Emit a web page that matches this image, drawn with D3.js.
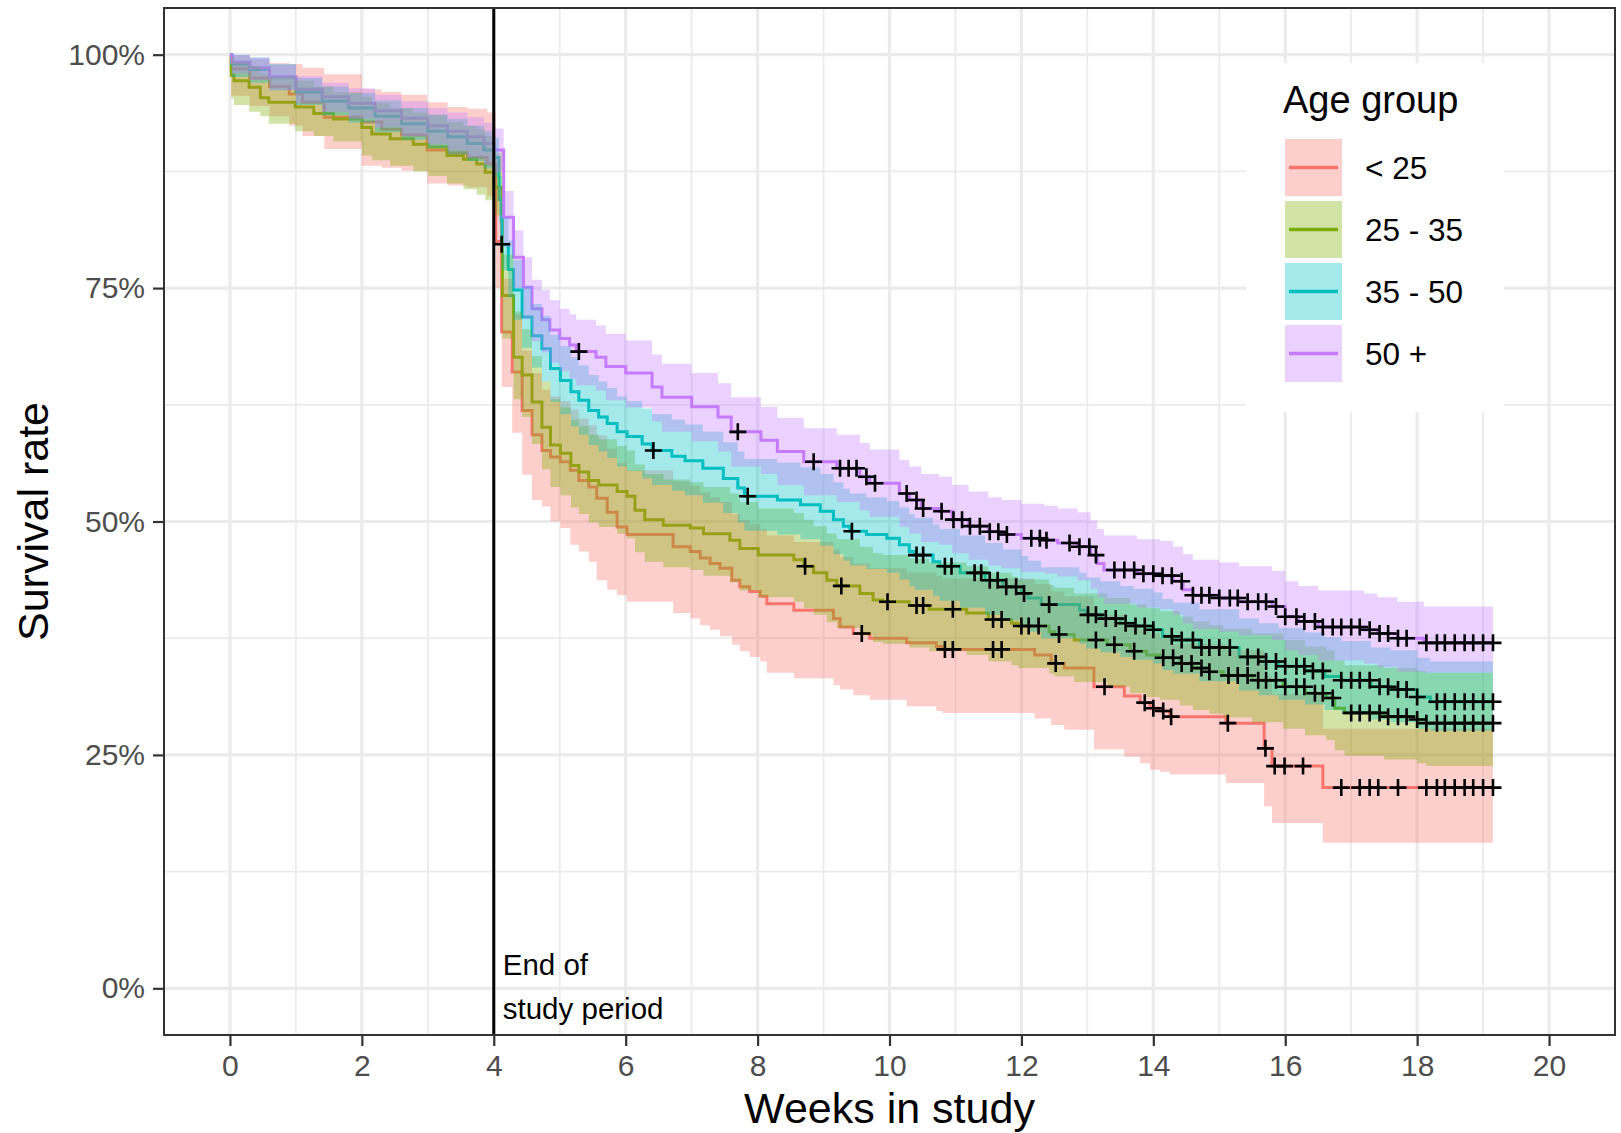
<!DOCTYPE html>
<html>
<head>
<meta charset="utf-8">
<script src="https://cdn.jsdelivr.net/npm/d3@7"></script>
<style>
  body { margin: 0; background: #fff; }
  svg { display: block; font-family: "Liberation Sans", Arial, Helvetica, sans-serif; }
</style>
</head>
<body>
<svg id="chart" width="1621" height="1133"></svg>
<script>
// ---- data (survival in %, time in weeks) ----
const groupNames = ["< 25", "25 - 35", "35 - 50", "50 +"];
const groupColors = ["#F8766D", "#7CAE00", "#00BFC4", "#C77CFF"];
const xTicks = [0, 2, 4, 6, 8, 10, 12, 14, 16, 18, 20];
const yTicks = [0, 0.25, 0.5, 0.75, 1];
const studyEnd = 4;
const followUpEnd = 19.15;

// < 25
const timeLt25 = [0, 0.02, 0.3, 0.6, 0.9, 1.1, 1.43, 2.0, 2.3, 2.6, 2.99, 3.3, 3.6, 3.9, 4.03, 4.12, 4.28, 4.43, 4.58, 4.73, 4.86, 5.01, 5.16, 5.29, 5.44, 5.56, 5.72, 5.87, 6.02, 6.72, 6.98, 7.13, 7.28, 7.43, 7.61, 7.73, 7.88, 8.04, 8.14, 8.55, 9.15, 9.25, 9.45, 9.7, 10.26, 10.71, 10.8, 12.2, 12.45, 12.65, 13.1, 13.56, 13.8, 13.95, 14.1, 14.25, 15.1, 15.68, 15.8, 16.57];
const survLt25 = [100, 98.5, 97.5, 96.6, 95.8, 94.9, 93.3, 92.8, 92.0, 91.4, 89.8, 89.5, 89.0, 88.3, 80.0, 70.3, 66.0, 61.9, 59.3, 57.6, 56.9, 56.4, 55.5, 54.4, 53.7, 52.5, 51.0, 49.4, 48.6, 47.3, 46.8, 46.1, 45.5, 45.0, 43.7, 43.0, 42.5, 42.0, 41.2, 40.5, 39.6, 38.7, 38.0, 37.5, 37.0, 36.6, 36.3, 35.7, 34.8, 34.3, 32.3, 31.3, 30.6, 30.0, 29.7, 29.1, 28.4, 25.7, 23.8, 21.5];
const lowerLt25 = [100, 95.6, 94.5, 93.4, 92.4, 91.3, 89.9, 88.1, 87.9, 87.6, 86.2, 86.0, 85.8, 84.9, 75.0, 64.4, 59.5, 55.0, 52.3, 51.6, 50.0, 49.3, 47.5, 46.8, 45.7, 43.7, 42.7, 42.1, 41.4, 40.2, 39.6, 38.9, 38.4, 37.7, 36.8, 36.1, 35.5, 35.0, 33.8, 33.2, 32.5, 32.0, 31.4, 30.9, 30.2, 29.7, 29.5, 28.9, 28.2, 27.7, 25.6, 24.8, 24.1, 23.4, 23.2, 22.9, 22.0, 19.5, 17.7, 15.6];
const upperLt25 = [100, 99.9, 99.5, 99.1, 99.0, 98.6, 97.9, 96.3, 96.0, 95.7, 94.9, 94.4, 94.2, 93.8, 86.0, 76.0, 72.2, 68.3, 65.9, 64.1, 63.4, 62.9, 62.0, 61.0, 60.3, 59.2, 57.8, 56.3, 55.5, 54.3, 53.8, 53.1, 52.6, 52.1, 50.8, 50.2, 49.7, 49.2, 48.5, 47.8, 47.0, 46.2, 45.5, 45.0, 44.5, 44.2, 43.9, 43.3, 42.5, 42.0, 40.0, 39.0, 38.4, 38.0, 37.5, 36.9, 36.2, 33.5, 31.5, 27.8];
const censorLt25 = [9.58, 10.84, 10.96, 11.57, 11.7, 12.52, 13.26, 13.87, 14.0, 14.15, 14.27, 15.13, 15.7, 15.84, 15.99, 16.27, 16.85, 17.13, 17.28, 17.41, 17.71, 18.14, 18.3, 18.42, 18.57, 18.72, 18.85, 19.0, 19.15];

// 25 - 35
const timeG25 = [0, 0.02, 0.06, 0.29, 0.46, 0.59, 0.99, 1.27, 1.57, 2.0, 2.15, 2.43, 2.78, 3.01, 3.29, 3.54, 3.74, 3.87, 4.0, 4.13, 4.3, 4.43, 4.58, 4.73, 4.86, 5.01, 5.17, 5.29, 5.44, 5.59, 5.87, 6.02, 6.14, 6.29, 6.57, 6.98, 7.18, 7.58, 7.73, 8.01, 8.55, 8.7, 8.85, 9.05, 9.2, 9.55, 9.75, 9.9, 10.3, 10.6, 11.17, 11.5, 11.85, 11.95, 12.42, 12.5, 12.8, 13.3, 13.65, 13.9, 14.1, 14.4, 14.6, 14.85, 15.06, 15.5, 15.97, 16.3, 16.62, 16.75, 16.9, 17.5, 18.0, 18.14];
const survG25 = [100, 97.8, 97.2, 96.5, 95.4, 94.9, 94.4, 93.7, 93.1, 92.2, 91.5, 91.0, 90.4, 90.1, 89.2, 88.8, 88.3, 87.4, 85.8, 74.2, 67.6, 65.7, 62.8, 60.1, 58.2, 57.3, 56.0, 55.3, 54.4, 53.9, 53.2, 52.7, 51.2, 50.2, 49.6, 49.3, 48.7, 48.0, 47.1, 46.4, 45.9, 45.2, 44.5, 43.7, 43.1, 42.3, 41.6, 41.4, 41.0, 40.6, 40.2, 39.5, 39.1, 38.8, 38.2, 37.9, 37.3, 36.8, 36.1, 35.7, 35.4, 34.8, 34.3, 33.9, 33.5, 33.0, 32.3, 31.6, 31.1, 30.0, 29.5, 29.1, 28.8, 28.4];
const lowerG25 = [100, 95.3, 94.6, 93.9, 93.4, 92.6, 91.8, 91.3, 90.7, 89.2, 88.7, 88.1, 87.5, 87.0, 86.2, 85.6, 85.0, 84.4, 82.8, 69.6, 63.1, 61.2, 58.3, 55.6, 53.7, 52.8, 51.5, 50.8, 49.9, 49.4, 48.7, 48.2, 46.7, 45.7, 45.1, 44.8, 44.2, 43.5, 42.6, 41.9, 41.4, 40.7, 40.0, 39.2, 38.6, 37.8, 37.1, 36.9, 36.5, 36.1, 35.7, 35.0, 34.6, 34.3, 33.7, 33.4, 32.8, 32.3, 31.6, 31.2, 30.9, 30.3, 29.8, 29.4, 29.0, 28.5, 27.8, 27.1, 26.6, 25.5, 24.9, 24.5, 24.1, 23.8];
const upperG25 = [100, 99.5, 99.2, 98.8, 98.0, 97.6, 97.2, 96.6, 96.0, 95.5, 94.8, 94.3, 93.8, 93.5, 92.8, 92.4, 92.0, 91.3, 89.5, 78.6, 72.5, 70.6, 67.7, 65.0, 63.1, 62.2, 60.9, 60.2, 59.3, 58.8, 58.1, 57.6, 56.1, 55.1, 54.5, 54.2, 53.7, 53.0, 52.1, 51.4, 50.9, 50.2, 49.5, 48.7, 48.1, 47.3, 46.6, 46.4, 46.0, 45.6, 45.2, 44.5, 44.1, 43.8, 43.2, 42.9, 42.3, 41.8, 41.1, 40.7, 40.4, 39.8, 39.3, 38.9, 38.5, 38.0, 37.3, 36.6, 36.2, 35.1, 34.6, 34.3, 34.0, 33.8];
const censorG25 = [8.72, 9.27, 9.97, 10.41, 10.51, 10.96, 11.57, 11.7, 12.0, 12.11, 12.26, 12.57, 13.13, 13.41, 13.71, 14.15, 14.3, 14.43, 14.58, 14.73, 14.85, 15.14, 15.28, 15.43, 15.59, 15.71, 15.86, 16.0, 16.17, 16.29, 16.45, 16.57, 16.72, 17.0, 17.13, 17.28, 17.43, 17.56, 17.71, 17.84, 18.0, 18.14, 18.3, 18.42, 18.57, 18.72, 18.85, 19.0, 19.15];

// 35 - 50
const timeG35 = [0, 0.03, 0.3, 0.6, 1.0, 1.4, 1.8, 2.2, 2.6, 3.0, 3.3, 3.6, 3.85, 4.0, 4.08, 4.12, 4.22, 4.3, 4.43, 4.58, 4.73, 4.86, 5.01, 5.17, 5.29, 5.44, 5.59, 5.72, 5.87, 6.02, 6.25, 6.4, 6.7, 6.9, 7.17, 7.48, 7.7, 7.8, 8.3, 8.65, 8.95, 9.15, 9.3, 9.4, 9.65, 9.96, 10.15, 10.3, 10.38, 10.66, 10.76, 11.07, 11.45, 11.72, 12.0, 12.1, 12.3, 12.88, 12.98, 13.2, 13.5, 13.7, 14.0, 14.14, 14.3, 14.7, 15.3, 15.6, 15.9, 16.3, 16.6, 16.85, 17.3, 17.6, 18.0, 18.2];
const survG35 = [100, 99.0, 98.4, 97.6, 96.0, 95.0, 94.3, 93.4, 92.6, 91.8, 91.2, 90.5, 89.8, 89.0, 84.5, 79.7, 77.0, 74.8, 71.9, 69.9, 68.5, 66.4, 65.1, 63.9, 63.0, 61.9, 61.2, 60.5, 59.6, 59.1, 58.3, 57.6, 57.0, 56.5, 55.7, 54.6, 53.6, 52.7, 52.3, 51.8, 51.1, 50.2, 49.5, 48.95, 48.6, 48.2, 47.5, 46.8, 46.4, 45.7, 45.2, 44.5, 43.7, 43.0, 42.3, 41.8, 41.1, 40.5, 40.0, 39.6, 39.1, 38.8, 38.4, 37.7, 37.3, 36.5, 35.5, 35.0, 34.5, 34.0, 33.4, 33.0, 32.3, 32.0, 31.2, 30.7];
const lowerG35 = [100, 97.6, 97.0, 96.2, 94.6, 93.5, 92.7, 91.7, 90.9, 90.0, 89.3, 88.6, 87.8, 86.9, 82.0, 76.9, 74.0, 71.6, 68.6, 66.5, 65.0, 62.8, 61.5, 60.2, 59.3, 58.2, 57.5, 56.8, 55.9, 55.4, 54.6, 53.9, 53.3, 52.8, 52.0, 50.9, 49.9, 49.0, 48.6, 48.1, 47.4, 46.5, 45.8, 45.3, 44.9, 44.5, 43.8, 43.1, 42.7, 42.0, 41.5, 40.8, 40.0, 39.4, 38.7, 38.2, 37.5, 36.9, 36.4, 36.0, 35.5, 35.2, 34.8, 34.1, 33.7, 32.9, 31.9, 31.4, 30.9, 30.4, 29.8, 29.4, 28.8, 28.5, 27.8, 27.6];
const upperG35 = [100, 100, 99.7, 99.0, 97.5, 96.6, 95.9, 95.1, 94.3, 93.6, 93.1, 92.4, 91.8, 91.1, 87.0, 82.6, 80.1, 78.0, 75.2, 73.3, 72.0, 70.0, 68.8, 67.6, 66.7, 65.7, 65.0, 64.3, 63.4, 62.9, 62.1, 61.5, 60.9, 60.4, 59.6, 58.5, 57.5, 56.7, 56.3, 55.8, 55.1, 54.2, 53.5, 53.0, 52.6, 52.2, 51.5, 50.8, 50.4, 49.7, 49.2, 48.5, 47.7, 47.0, 46.3, 45.8, 45.1, 44.5, 44.0, 43.6, 43.1, 42.8, 42.4, 41.7, 41.3, 40.6, 39.6, 39.1, 38.6, 38.1, 37.6, 37.2, 36.5, 36.2, 35.4, 35.0];
const censorG35 = [4.12, 6.42, 7.85, 9.43, 10.41, 10.51, 10.84, 10.94, 11.29, 11.39, 11.52, 11.64, 11.77, 11.92, 12.04, 12.42, 13.01, 13.13, 13.28, 13.43, 13.58, 13.73, 13.87, 14.0, 14.28, 14.43, 14.6, 14.73, 14.85, 15.0, 15.16, 15.43, 15.59, 15.71, 15.86, 16.0, 16.17, 16.29, 16.42, 16.57, 16.85, 17.0, 17.13, 17.28, 17.43, 17.56, 17.71, 17.84, 18.0, 18.3, 18.42, 18.57, 18.72, 18.85, 19.0, 19.15];

// 50 +
const timeG50 = [0, 0.03, 0.3, 0.6, 1.0, 1.4, 1.8, 2.2, 2.6, 3.0, 3.3, 3.6, 3.85, 4.0, 4.15, 4.3, 4.45, 4.58, 4.73, 4.85, 5.0, 5.15, 5.25, 5.55, 5.7, 6.0, 6.4, 6.55, 7.0, 7.4, 7.6, 8.05, 8.3, 8.7, 9.2, 9.55, 9.7, 10.15, 10.3, 10.48, 10.75, 10.95, 11.2, 11.5, 11.7, 12.0, 12.35, 12.55, 12.85, 13.05, 13.15, 13.25, 13.75, 14.1, 14.3, 14.45, 14.6, 15.0, 15.3, 15.8, 16.0, 16.2, 16.5, 17.2, 17.4, 17.7, 18.1];
const survG50 = [100, 99.2, 98.6, 97.6, 96.3, 95.5, 94.8, 94.0, 93.2, 92.4, 91.8, 91.2, 90.5, 89.8, 82.6, 78.3, 75.1, 72.8, 71.6, 70.5, 69.6, 68.9, 68.2, 67.6, 66.6, 65.9, 64.4, 63.3, 62.3, 61.2, 59.6, 58.7, 57.5, 56.4, 55.7, 54.8, 54.1, 53.0, 52.3, 51.4, 51.1, 50.2, 49.5, 48.9, 48.6, 48.2, 48.0, 47.7, 47.3, 46.4, 45.5, 44.8, 44.4, 44.2, 43.6, 42.7, 42.1, 41.8, 41.4, 40.9, 39.8, 39.3, 38.7, 38.4, 38.0, 37.5, 37.0];
const lowerG50 = [100, 98.0, 97.3, 96.2, 94.8, 93.9, 93.1, 92.2, 91.3, 90.4, 89.7, 89.0, 88.2, 87.4, 79.4, 75.0, 71.7, 69.3, 68.1, 67.0, 66.1, 65.3, 64.6, 64.0, 63.0, 62.2, 60.7, 59.6, 58.6, 57.5, 55.9, 55.1, 53.9, 52.8, 52.1, 51.2, 50.5, 49.4, 48.7, 47.8, 47.5, 46.6, 45.9, 45.3, 45.0, 44.6, 44.4, 44.1, 43.7, 42.8, 41.9, 41.2, 40.8, 40.6, 40.0, 39.1, 38.5, 38.2, 37.8, 37.3, 36.2, 35.7, 35.1, 34.8, 34.4, 33.9, 33.8];
const upperG50 = [100, 100, 99.7, 98.9, 97.7, 97.0, 96.4, 95.7, 95.0, 94.3, 93.8, 93.3, 92.7, 92.1, 85.4, 81.2, 78.3, 75.9, 74.8, 73.7, 72.8, 72.2, 71.6, 71.0, 70.1, 69.4, 67.9, 66.9, 65.9, 64.8, 63.3, 62.3, 61.1, 60.0, 59.3, 58.4, 57.7, 56.6, 55.9, 55.1, 54.8, 53.9, 53.2, 52.6, 52.3, 51.9, 51.7, 51.4, 51.0, 50.1, 49.2, 48.5, 48.1, 47.9, 47.3, 46.5, 45.9, 45.6, 45.2, 44.7, 43.6, 43.1, 42.6, 42.3, 41.9, 41.4, 40.9];
const censorG50 = [5.29, 7.7, 8.85, 9.25, 9.38, 9.5, 9.65, 9.78, 10.26, 10.41, 10.51, 10.79, 10.97, 11.1, 11.22, 11.37, 11.52, 11.65, 11.78, 12.15, 12.28, 12.38, 12.73, 12.88, 13.03, 13.13, 13.41, 13.56, 13.71, 13.85, 14.0, 14.14, 14.28, 14.43, 14.6, 14.73, 14.85, 15.0, 15.16, 15.28, 15.43, 15.59, 15.71, 15.86, 16.0, 16.17, 16.29, 16.45, 16.57, 16.72, 16.85, 17.0, 17.13, 17.28, 17.43, 17.56, 17.71, 17.84, 18.14, 18.3, 18.42, 18.57, 18.72, 18.85, 19.0, 19.15];

// ---- build ----
const groups = [
  {time: timeLt25, surv: survLt25, lower: lowerLt25, upper: upperLt25, censor: censorLt25},
  {time: timeG25, surv: survG25, lower: lowerG25, upper: upperG25, censor: censorG25},
  {time: timeG35, surv: survG35, lower: lowerG35, upper: upperG35, censor: censorG35},
  {time: timeG50, surv: survG50, lower: lowerG50, upper: upperG50, censor: censorG50}
].map(function(g, i) {
  var rows = g.time.map(function(t, j) {
    return {t: t, s: g.surv[j] / 100, lo: g.lower[j] / 100, hi: g.upper[j] / 100};
  });
  var last = rows[rows.length - 1];
  rows.push({t: followUpEnd, s: last.s, lo: last.lo, hi: last.hi});
  return {name: groupNames[i], color: groupColors[i], rows: rows, censor: g.censor};
});

const FONT = '"Liberation Sans", Arial, Helvetica, sans-serif';
const panel = {left: 164, right: 1615, top: 8, bottom: 1035};

const svg = d3.select("#chart");
const x = d3.scaleLinear().domain([-1, 21]).range([panel.left, panel.right]);
const y = d3.scaleLinear().domain([-0.05, 1.05]).range([panel.bottom, panel.top]);

svg.append("rect").attr("width", 1621).attr("height", 1133).attr("fill", "#fff");

svg.append("defs").append("clipPath").attr("id", "panel-clip")
  .append("rect")
    .attr("x", panel.left).attr("y", panel.top)
    .attr("width", panel.right - panel.left).attr("height", panel.bottom - panel.top);

// grid
var grid = svg.append("g").attr("class", "grid");
var xMinor = d3.range(1, 21, 2), yMinor = [0.125, 0.375, 0.625, 0.875];
grid.selectAll("line.xminor").data(xMinor).enter().append("line")
    .attr("x1", d => x(d)).attr("x2", d => x(d))
    .attr("y1", panel.top).attr("y2", panel.bottom)
    .attr("stroke", "#EBEBEB").attr("stroke-width", 1.8);
grid.selectAll("line.yminor").data(yMinor).enter().append("line")
    .attr("y1", d => y(d)).attr("y2", d => y(d))
    .attr("x1", panel.left).attr("x2", panel.right)
    .attr("stroke", "#EBEBEB").attr("stroke-width", 1.8);
grid.selectAll("line.xmajor").data(xTicks).enter().append("line")
    .attr("x1", d => x(d)).attr("x2", d => x(d))
    .attr("y1", panel.top).attr("y2", panel.bottom)
    .attr("stroke", "#EBEBEB").attr("stroke-width", 3.2);
grid.selectAll("line.ymajor").data(yTicks).enter().append("line")
    .attr("y1", d => y(d)).attr("y2", d => y(d))
    .attr("x1", panel.left).attr("x2", panel.right)
    .attr("stroke", "#EBEBEB").attr("stroke-width", 3.2);

var plot = svg.append("g").attr("clip-path", "url(#panel-clip)");

var line = d3.line().x(d => x(d.t)).y(d => y(d.s)).curve(d3.curveStepAfter);
var area = d3.area().x(d => x(d.t)).y0(d => y(d.lo)).y1(d => y(d.hi)).curve(d3.curveStepAfter);

// step lines first, then ribbons over them (as survminer does)
plot.selectAll("path.km").data(groups).enter().append("path")
    .attr("class", "km")
    .attr("d", d => line(d.rows))
    .attr("fill", "none")
    .attr("stroke", d => d.color)
    .attr("stroke-width", 3);
plot.selectAll("path.ci").data(groups).enter().append("path")
    .attr("class", "ci")
    .attr("d", d => area(d.rows))
    .attr("fill", d => d.color)
    .attr("fill-opacity", 0.35);

// end of study period
plot.append("line")
    .attr("x1", x(studyEnd)).attr("x2", x(studyEnd))
    .attr("y1", panel.top).attr("y2", panel.bottom)
    .attr("stroke", "#000").attr("stroke-width", 3);

// censor marks
var bis = d3.bisector(d => d.t).right;
function survAt(rows, t) {
  var i = Math.max(0, bis(rows, t) - 1);
  return rows[i].s;
}
groups.forEach(function(g) {
  plot.append("g").selectAll("path").data(g.censor).enter().append("path")
      .attr("transform", t => "translate(" + x(t) + "," + y(survAt(g.rows, t)) + ")")
      .attr("d", "M-8.5,0H8.5M0,-8.5V8.5")
      .attr("stroke", "#000").attr("stroke-width", 2.6).attr("fill", "none");
});

// annotation
var note = svg.append("text").attr("font-family", FONT).attr("font-size", 29.5).attr("fill", "#000");
note.append("tspan").attr("x", x(studyEnd) + 9).attr("y", 975).text("End of");
note.append("tspan").attr("x", x(studyEnd) + 9).attr("y", 1019).text("study period");

// panel border
svg.append("rect")
    .attr("x", panel.left).attr("y", panel.top)
    .attr("width", panel.right - panel.left).attr("height", panel.bottom - panel.top)
    .attr("fill", "none").attr("stroke", "#333").attr("stroke-width", 2);

// axes
var xAxis = svg.append("g")
    .attr("transform", "translate(0," + panel.bottom + ")")
    .call(d3.axisBottom(x).tickValues(xTicks).tickSize(11).tickPadding(9).tickFormat(d3.format("d")));
var yAxis = svg.append("g")
    .attr("transform", "translate(" + panel.left + ",0)")
    .call(d3.axisLeft(y).tickValues(yTicks).tickSize(11).tickPadding(8).tickFormat(d3.format(".0%")));
[xAxis, yAxis].forEach(function(a) {
  a.select(".domain").remove();
  a.selectAll(".tick line").attr("stroke", "#333").attr("stroke-width", 2.2);
  a.selectAll(".tick text").attr("fill", "#4D4D4D").attr("font-size", 30).attr("font-family", FONT);
});

svg.append("text")
    .attr("x", (panel.left + panel.right) / 2).attr("y", 1123)
    .attr("text-anchor", "middle").attr("font-family", FONT).attr("font-size", 43)
    .text("Weeks in study");
svg.append("text")
    .attr("transform", "translate(48," + y(0.5) + ") rotate(-90)")
    .attr("text-anchor", "middle").attr("font-family", FONT).attr("font-size", 43)
    .text("Survival rate");

// legend
var legend = svg.append("g");
legend.append("rect")
    .attr("x", 1246).attr("y", 63).attr("width", 258).attr("height", 349)
    .attr("fill", "#fff");
legend.append("text")
    .attr("x", 1283).attr("y", 113)
    .attr("font-family", FONT).attr("font-size", 38)
    .text("Age group");
var keys = legend.selectAll("g.key").data(groups).enter().append("g")
    .attr("transform", (d, i) => "translate(1285," + (139 + i * 62) + ")");
keys.append("rect").attr("width", 57).attr("height", 57).attr("fill", "#fff");
keys.append("line")
    .attr("x1", 4).attr("x2", 53).attr("y1", 28.5).attr("y2", 28.5)
    .attr("stroke", d => d.color).attr("stroke-width", 3.5);
keys.append("rect").attr("width", 57).attr("height", 57)
    .attr("fill", d => d.color).attr("fill-opacity", 0.35);
keys.append("text")
    .attr("x", 80).attr("y", 40)
    .attr("font-family", FONT).attr("font-size", 31.5)
    .text(d => d.name);
</script>
</body>
</html>
